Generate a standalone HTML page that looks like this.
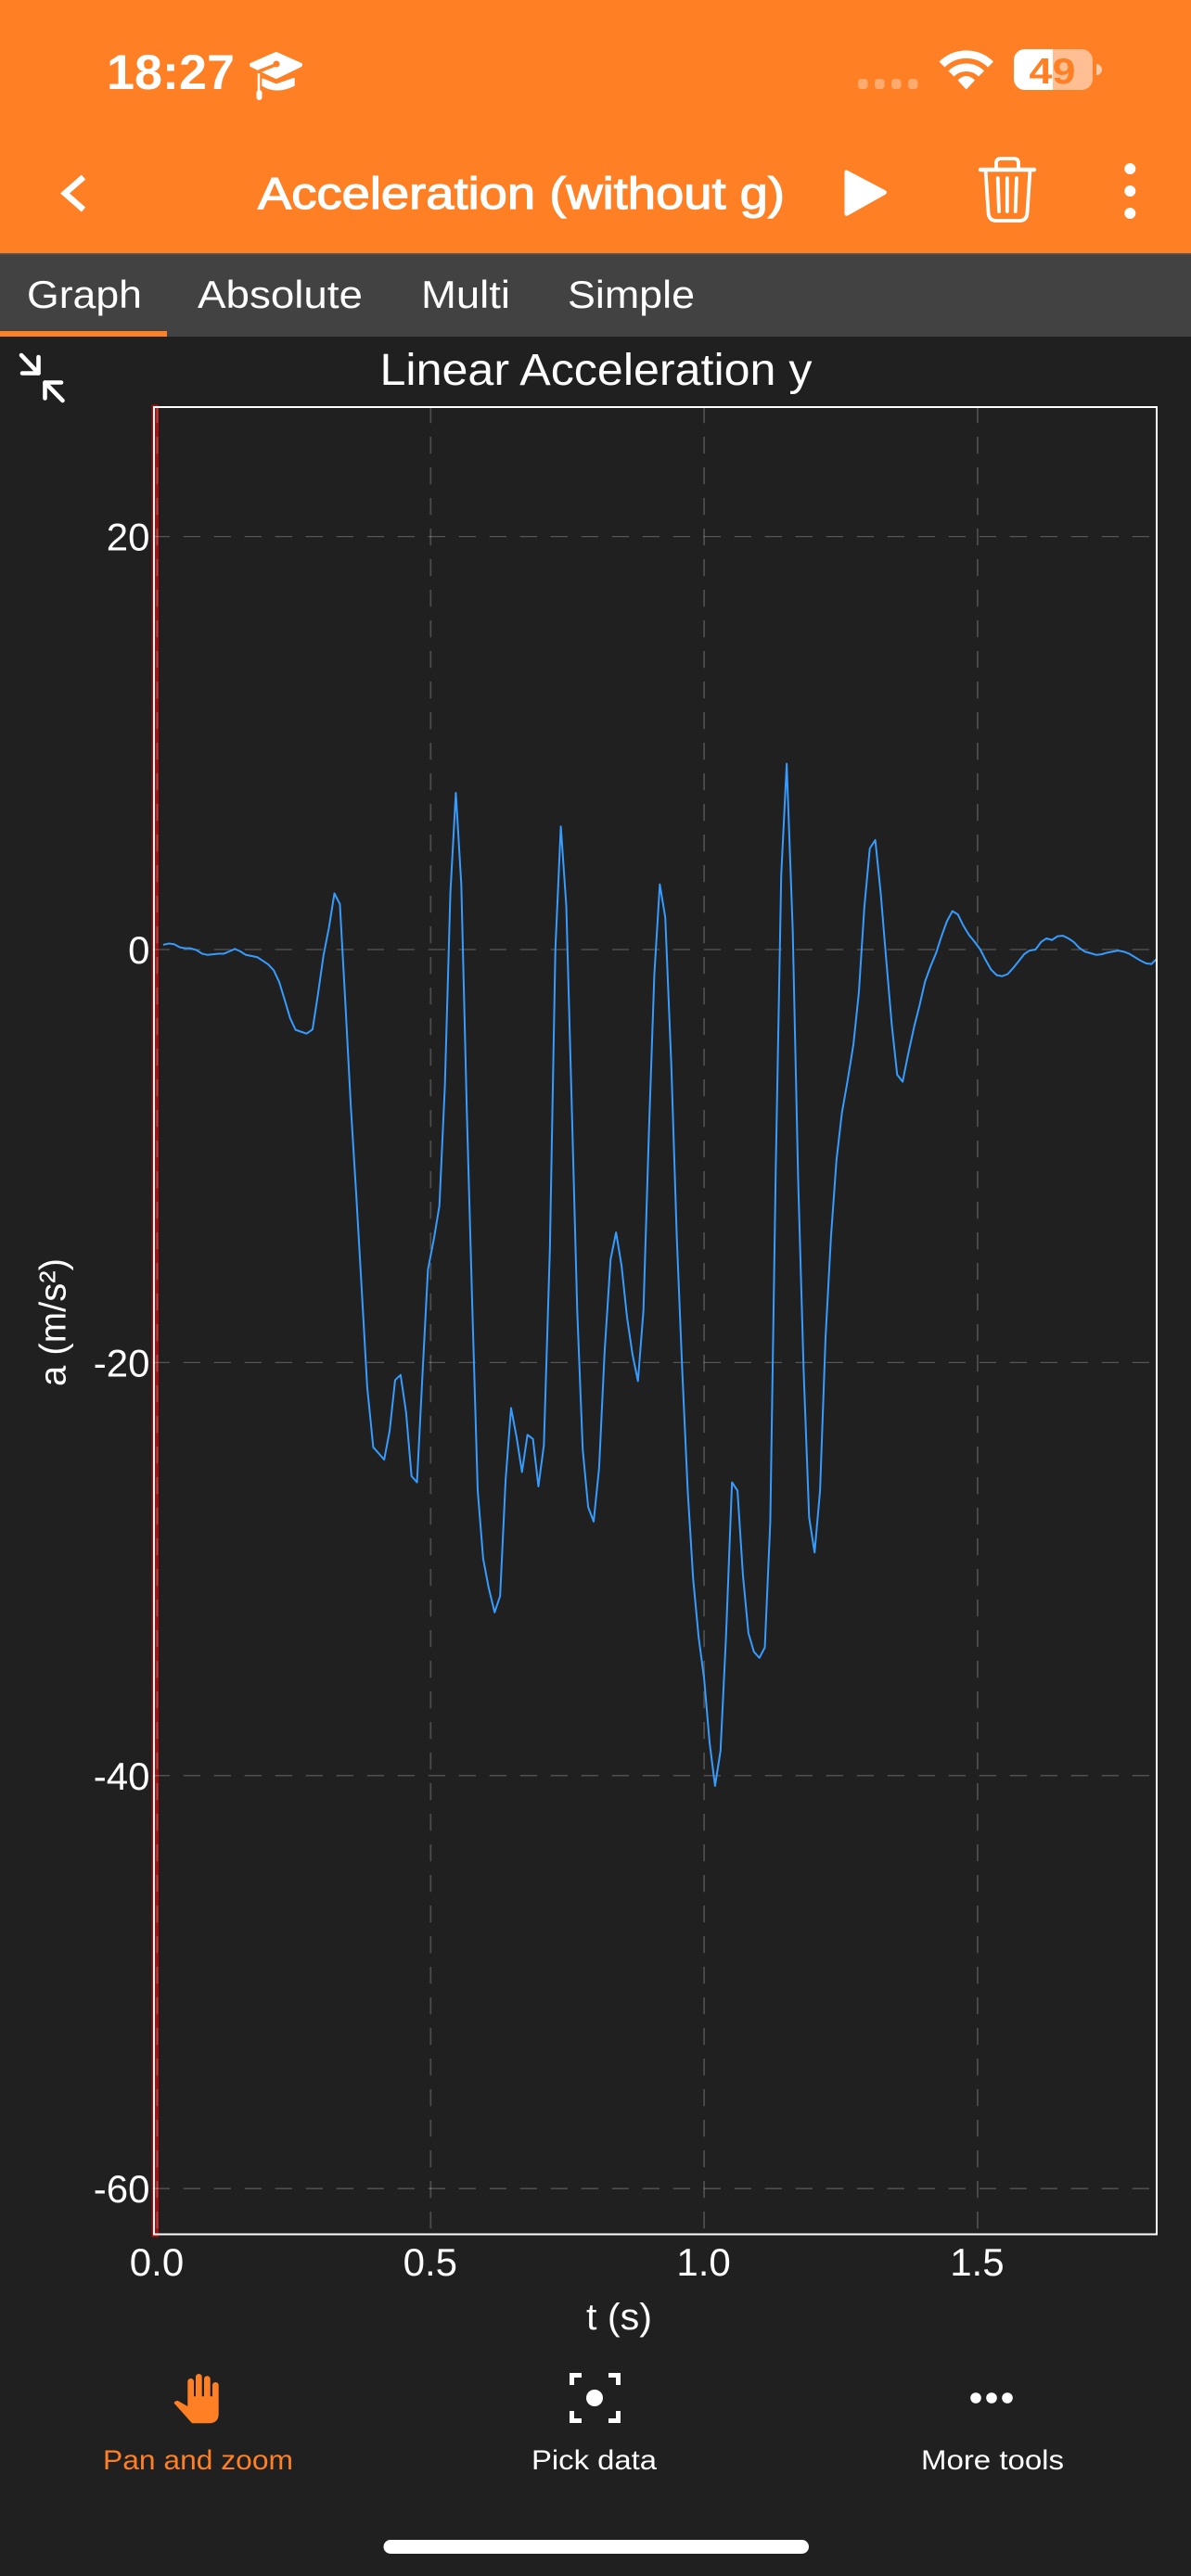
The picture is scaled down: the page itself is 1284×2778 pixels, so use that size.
<!DOCTYPE html>
<html lang="en">
<head>
<meta charset="utf-8">
<title>Acceleration (without g)</title>
<style>
html,body{margin:0;padding:0;background:#202020;width:1284px;height:2778px;overflow:hidden}
svg{display:block}
text{font-family:"Liberation Sans",sans-serif;fill:#fff}
</style>
</head>
<body>
<svg id="screen" xmlns="http://www.w3.org/2000/svg" width="1284" height="2778" viewBox="0 0 1284 2778">
  <rect x="0" y="0" width="1284" height="2778" fill="#202020"/>

  <g>
    <rect x="0" y="0" width="1284" height="273" fill="#ff7f24"/>
    <text x="115" y="96" font-size="53" font-weight="700" textLength="138" lengthAdjust="spacingAndGlyphs">18:27</text>
    <g>
      <path d="M297.7 58.5 L323.5 70 L297.7 82.5 L271.5 70 Z" fill="#fff" stroke="#fff" stroke-width="5" stroke-linejoin="round"/>
      <path d="M283.3 85.5 V92 Q298 101 316.7 92 V85 L298 91.5 Z" fill="#fff" stroke="#fff" stroke-width="2" stroke-linejoin="round"/>
      <path d="M298 69.5 L279 77" stroke="#ff7f24" stroke-width="3.5" fill="none"/>
      <circle cx="298" cy="69" r="3.5" fill="#ff7f24"/>
      <path d="M279 79 V100" stroke="#fff" stroke-width="2.5" fill="none"/>
      <rect x="276.5" y="97" width="6" height="11" rx="3" fill="#fff"/>
    </g>
    <g fill="#fff" fill-opacity="0.35">
      <rect x="925" y="85" width="10.5" height="11" rx="3.5"/>
      <rect x="943" y="85" width="10.5" height="11" rx="3.5"/>
      <rect x="961" y="85" width="10.5" height="11" rx="3.5"/>
      <rect x="979" y="85" width="10.5" height="11" rx="3.5"/>
    </g>
    <g fill="none" stroke="#fff" stroke-width="8.5">
      <path d="M1015.5 69.5 A37 37 0 0 1 1068 69.5"/>
      <path d="M1025.5 79.5 A23 23 0 0 1 1058 79.5"/>
      <path d="M1032.5 86.5 L1041.7 96.5 L1051 86.5 Q1041.7 77.5 1032.5 86.5 Z" fill="#fff" stroke="none"/>
    </g>
    <g>
      <rect x="1093" y="53" width="85" height="44" rx="12" fill="#ffffff" fill-opacity="0.5"/>
      <path d="M1105 53 H1135 V97 H1105 A12 12 0 0 1 1093 85 V65 A12 12 0 0 1 1105 53 Z" fill="#fff"/>
      <path d="M1182 69 A6 6 0 0 1 1182 81 Z" fill="#fff" fill-opacity="0.6"/>
      <text x="1109.5" y="90" font-size="39" font-weight="700" textLength="50" lengthAdjust="spacingAndGlyphs" style="fill:#ff7f24">49</text>
    </g>
    <path d="M90 191 L70 208.5 L90 226" fill="none" stroke="#fff" stroke-width="6.5" stroke-linejoin="miter"/>
    <text x="278" y="225" font-size="48" stroke="#fff" stroke-width="1.2" textLength="568" lengthAdjust="spacingAndGlyphs">Acceleration (without g)</text>
    <path d="M914 184 L954 205 Q958 207.5 954 210 L914 232.5 Q910.5 234 910.5 230 V186 Q910.5 182 914 184 Z" fill="#fff"/>
    <g fill="none" stroke="#fff" stroke-width="3.8" stroke-linecap="round" stroke-linejoin="round">
      <path d="M1057 183 H1115" stroke-width="4.4"/>
      <path d="M1074 183 V176 Q1074 171 1079 171 H1093 Q1098 171 1098 176 V183"/>
      <path d="M1062.5 183 L1065.5 229 Q1066 238 1074 238 H1099 Q1107 238 1107.5 229 L1110.5 183"/>
      <path d="M1075.7 192 L1077 228"/>
      <path d="M1085.8 192 V228"/>
      <path d="M1096 192 L1094.7 228"/>
    </g>
    <g fill="#fff">
      <circle cx="1218.3" cy="182" r="6"/>
      <circle cx="1218.3" cy="206" r="6"/>
      <circle cx="1218.3" cy="230" r="6"/>
    </g>
  </g>

  <g>
    <rect x="0" y="273" width="1284" height="90" fill="#424242"/>
    <rect x="0" y="273" width="1284" height="1.5" fill="#5a5a5a"/>
    <text x="29" y="332" font-size="42" textLength="124" lengthAdjust="spacingAndGlyphs">Graph</text>
    <text x="213" y="332" font-size="42" textLength="178" lengthAdjust="spacingAndGlyphs">Absolute</text>
    <text x="454" y="332" font-size="42" textLength="96" lengthAdjust="spacingAndGlyphs">Multi</text>
    <text x="612" y="332" font-size="42" textLength="137" lengthAdjust="spacingAndGlyphs">Simple</text>
    <rect x="0" y="357" width="180" height="6" fill="#ff7f24"/>
  </g>

  <g fill="none" stroke="#fff" stroke-width="4.6" stroke-linecap="round" stroke-linejoin="round">
    <path d="M23 383 L41.5 402.5"/>
    <path d="M41.5 385 V402.5 H24"/>
    <path d="M67.5 432 L48.5 412.5"/>
    <path d="M48.5 429.5 V412.5 H66"/>
  </g>

  <text x="409.5" y="415" font-size="48" textLength="466" lengthAdjust="spacingAndGlyphs">Linear Acceleration y</text>

  <g id="chart">
    <rect x="163.5" y="436.5" width="7.5" height="1976" fill="#a50f0f"/>
    <g id="grid"></g>
    <defs>
      <clipPath id="plot-clip"><rect x="167" y="440" width="1079" height="1968.5"/></clipPath>
    </defs>
    <path id="series-line" clip-path="url(#plot-clip)" fill="none" stroke="#369cff" stroke-width="2" stroke-linejoin="round"/>
    <rect x="166" y="439" width="1081" height="1970.5" fill="none" stroke="#fff" stroke-width="2"/>
    <g id="x-ticks"></g>
    <g id="y-ticks"></g>
    <text x="632" y="2512" font-size="40" textLength="71" lengthAdjust="spacingAndGlyphs">t (s)</text>
    <text x="70.7" y="1495" font-size="40" transform="rotate(-90 70.7 1495)" textLength="138" lengthAdjust="spacingAndGlyphs">a (m/s²)</text>
  </g>

  <g>
    <g>
      <path fill="#ff7f24" d="M187.6 2591.5 Q188.5 2589 191.7 2589 L202.3 2595 V2568.3 a3.35 3.35 0 0 1 6.7 0 V2584.3 H211 V2563.3 a3.35 3.35 0 0 1 6.7 0 V2584.3 H220 V2565.6 a3.35 3.35 0 0 1 6.7 0 V2584.3 H229 V2572.3 a3.35 3.35 0 0 1 6.7 0 V2603 Q235.7 2613.3 225 2613.3 H207 Z"/>
      <text x="111" y="2663" font-size="30" textLength="205" lengthAdjust="spacingAndGlyphs" style="fill:#ff7f24">Pan and zoom</text>
    </g>
    <g>
      <g fill="none" stroke="#fff" stroke-width="5">
        <path d="M627 2561.5 H616.5 V2572"/>
        <path d="M656 2561.5 H666.5 V2572"/>
        <path d="M616.5 2600 V2610.5 H627"/>
        <path d="M666.5 2600 V2610.5 H656"/>
        <circle cx="641" cy="2586" r="9" fill="#fff" stroke="none"/>
      </g>
      <text x="573" y="2663" font-size="30" textLength="135" lengthAdjust="spacingAndGlyphs">Pick data</text>
    </g>
    <g>
      <g fill="#fff">
        <circle cx="1052" cy="2586" r="5.8"/>
        <circle cx="1069" cy="2586" r="5.8"/>
        <circle cx="1086" cy="2586" r="5.8"/>
      </g>
      <text x="993" y="2663" font-size="30" textLength="154" lengthAdjust="spacingAndGlyphs">More tools</text>
    </g>
  </g>
  <rect x="413.5" y="2739" width="458.5" height="15" rx="7.5" fill="#fff"/>
</svg>

<script>
const times = [
0.011,0.021,0.031,0.041,0.051,0.061,0.072,0.082,0.092,0.102,
0.112,0.122,0.132,0.142,0.152,0.162,0.172,0.183,0.193,0.203,
0.213,0.223,0.233,0.243,0.253,0.263,0.273,0.284,0.294,0.304,
0.314,0.324,0.334,0.344,0.354,0.364,0.374,0.384,0.395,0.405,
0.415,0.425,0.435,0.445,0.455,0.465,0.475,0.485,0.495,0.506,
0.516,0.526,0.536,0.546,0.556,0.566,0.576,0.586,0.596,0.606,
0.617,0.627,0.637,0.647,0.657,0.667,0.677,0.687,0.697,0.707,
0.718,0.728,0.738,0.748,0.758,0.768,0.778,0.788,0.798,0.808,
0.818,0.829,0.839,0.849,0.859,0.869,0.879,0.889,0.899,0.909,
0.919,0.929,0.940,0.950,0.960,0.970,0.980,0.990,1.000,1.010,
1.020,1.030,1.040,1.051,1.061,1.071,1.081,1.091,1.101,1.111,
1.121,1.131,1.141,1.151,1.162,1.172,1.182,1.192,1.202,1.212,
1.222,1.232,1.242,1.252,1.262,1.273,1.283,1.293,1.303,1.313,
1.323,1.333,1.343,1.353,1.363,1.373,1.384,1.394,1.404,1.414,
1.424,1.434,1.444,1.454,1.464,1.474,1.484,1.495,1.505,1.515,
1.525,1.535,1.545,1.555,1.565,1.575,1.585,1.595,1.606,1.616,
1.626,1.636,1.646,1.656,1.666,1.676,1.686,1.696,1.707,1.717,
1.727,1.737,1.747,1.757,1.767,1.777,1.787,1.797,1.808,1.818,
1.828];

const accelerationY = [
0.23,0.29,0.26,0.11,0.06,0.06,-0.03,-0.2,-0.26,-0.23,
-0.2,-0.2,-0.09,0.03,-0.09,-0.26,-0.31,-0.37,-0.54,-0.72,
-1.0,-1.57,-2.43,-3.32,-3.89,-3.98,-4.07,-3.87,-2.15,-0.29,
1.06,2.72,2.2,-2.58,-7.6,-11.9,-16.5,-21.2,-24.1,-24.4,
-24.7,-23.3,-20.85,-20.6,-22.4,-25.5,-25.8,-20.6,-15.5,-14.0,
-12.4,-6.6,2.72,7.59,3.15,-7.73,-17.2,-26.2,-29.5,-30.9,
-32.1,-31.3,-25.7,-22.2,-23.6,-25.3,-23.5,-23.7,-26.0,-24.0,
-14.5,0.0,5.96,2.1,-7.6,-17.5,-24.2,-27.0,-27.7,-25.1,
-19.5,-15.0,-13.7,-15.3,-17.8,-19.6,-20.9,-17.5,-8.9,-1.2,
3.16,1.55,-5.6,-13.9,-20.4,-26.2,-30.5,-33.3,-35.3,-38.4,
-40.5,-38.8,-33.3,-25.8,-26.2,-30.3,-33.1,-34.0,-34.3,-33.8,
-27.7,-10.6,3.6,9.0,0.95,-11.2,-20.4,-27.5,-29.2,-26.2,
-18.8,-13.9,-10.2,-7.9,-6.4,-4.6,-2.06,2.06,4.9,5.3,
2.7,-0.5,-3.6,-6.06,-6.4,-5.08,-3.74,-2.7,-1.55,-0.82,
-0.18,0.64,1.37,1.86,1.7,1.16,0.72,0.36,0.0,-0.52,
-0.98,-1.24,-1.29,-1.19,-0.9,-0.57,-0.23,-0.05,0.0,0.36,
0.54,0.46,0.64,0.67,0.54,0.36,0.08,-0.1,-0.18,-0.26,
-0.23,-0.15,-0.1,-0.05,-0.1,-0.2,-0.36,-0.52,-0.67,-0.7,
-0.44];

const xTickValues = [0, 0.5, 1.0, 1.5];
const xTickLabels = ["0.0", "0.5", "1.0", "1.5"];
const yTickValues = [20, 0, -20, -40, -60];
const yTickLabels = ["20", "0", "-20", "-40", "-60"];

const SVG_NS = "http://www.w3.org/2000/svg";
const plot = { left: 166, right: 1247, top: 439, bottom: 2409.5 };

function xScale(t) { return 169.5 + 589.6 * t; }
function yScale(v) { return 1024 - 22.27 * v; }

const grid = document.getElementById("grid");
const xTicks = document.getElementById("x-ticks");
const yTicks = document.getElementById("y-ticks");

xTickValues.forEach(function (value, i) {
  const line = document.createElementNS(SVG_NS, "line");
  
  
  line.setAttribute("x1", xScale(value));
  line.setAttribute("x2", xScale(value));
  line.setAttribute("y1", 438);
  line.setAttribute("y2", plot.bottom);
  line.setAttribute("stroke", "rgba(255,255,255,0.2)");
  line.setAttribute("stroke-width", "1.8");
  line.setAttribute("stroke-dasharray", "18.3 14.7");
  grid.appendChild(line);

  const label = document.createElementNS(SVG_NS, "text");
  
  
  label.setAttribute("x", xScale(value) - 0.5);
  label.setAttribute("y", 2454);
  label.setAttribute("font-size", "42");
  label.setAttribute("text-anchor", "middle");
  label.textContent = xTickLabels[i];
  xTicks.appendChild(label);
});

yTickValues.forEach(function (value, i) {
  const line = document.createElementNS(SVG_NS, "line");
  
  
  line.setAttribute("x1", 164.7);
  line.setAttribute("x2", plot.right);
  line.setAttribute("y1", yScale(value));
  line.setAttribute("y2", yScale(value));
  line.setAttribute("stroke", "rgba(255,255,255,0.24)");
  line.setAttribute("stroke-width", "1.3");
  line.setAttribute("stroke-dasharray", "18.3 14.7");
  grid.appendChild(line);

  const label = document.createElementNS(SVG_NS, "text");
  
  
  label.setAttribute("x", 161.5);
  label.setAttribute("y", yScale(value) + 15);
  label.setAttribute("font-size", "42");
  label.setAttribute("text-anchor", "end");
  label.textContent = yTickLabels[i];
  yTicks.appendChild(label);
});

const linePath = accelerationY.map(function (value, i) {
  return (i === 0 ? "M" : "L") + xScale(times[i]).toFixed(2) + " " + yScale(value).toFixed(2);
}).join(" ");
document.getElementById("series-line").setAttribute("d", linePath);
</script>
</body>
</html>
